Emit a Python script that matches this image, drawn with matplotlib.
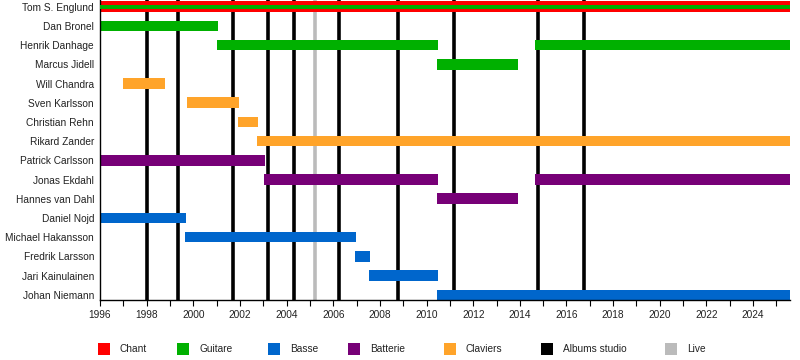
import matplotlib
matplotlib.use("Agg")
import matplotlib.pyplot as plt
from matplotlib.patches import Rectangle

plt.rcParams['font.family'] = ['Liberation Sans', 'DejaVu Sans']

END = 2025.6

members = ["Tom S. Englund", "Dan Bronel", "Henrik Danhage", "Marcus Jidell",
           "Will Chandra", "Sven Karlsson", "Christian Rehn", "Rikard Zander",
           "Patrick Carlsson", "Jonas Ekdahl", "Hannes van Dahl", "Daniel Nojd",
           "Michael Hakansson", "Fredrik Larsson", "Jari Kainulainen", "Johan Niemann"]

# (member, start, end, role)
periods = [
    ("Tom S. Englund", 1996.0, END, "Chant"),
    ("Dan Bronel", 1996.0, 2001.04, "Guitare"),
    ("Henrik Danhage", 2001.0, 2010.47, "Guitare"),
    ("Henrik Danhage", 2014.64, END, "Guitare"),
    ("Marcus Jidell", 2010.44, 2013.92, "Guitare"),
    ("Will Chandra", 1996.99, 1998.77, "Claviers"),
    ("Sven Karlsson", 1999.73, 2001.96, "Claviers"),
    ("Christian Rehn", 2001.91, 2002.76, "Claviers"),
    ("Rikard Zander", 2002.73, END, "Claviers"),
    ("Patrick Carlsson", 1996.0, 2003.07, "Batterie"),
    ("Jonas Ekdahl", 2003.03, 2010.47, "Batterie"),
    ("Jonas Ekdahl", 2014.64, END, "Batterie"),
    ("Hannes van Dahl", 2010.44, 2013.92, "Batterie"),
    ("Daniel Nojd", 1996.0, 1999.67, "Basse"),
    ("Michael Hakansson", 1999.64, 2006.97, "Basse"),
    ("Fredrik Larsson", 2006.93, 2007.57, "Basse"),
    ("Jari Kainulainen", 2007.53, 2010.47, "Basse"),
    ("Johan Niemann", 2010.44, END, "Basse"),
]

# secondary role stripe (inner thin bar)
inner = [("Tom S. Englund", 1996.0, END, "Guitare")]

studio_albums = [1998.0, 1999.36, 2001.71, 2003.21, 2004.33, 2006.26,
                 2008.76, 2011.19, 2014.79, 2016.76]
live_albums = [2005.21]

colors = {"Chant": "#ff0000", "Guitare": "#00b000", "Basse": "#0066cc",
          "Batterie": "#770077", "Claviers": "#ffa42a",
          "Albums studio": "#000000", "Live": "#bbbbbb"}
legend_items = ["Chant", "Guitare", "Basse", "Batterie", "Claviers",
                "Albums studio", "Live"]

fig = plt.figure(figsize=(8, 3.6), dpi=100)
ax = fig.add_axes([0.125, 0.1667, 0.988 - 0.125, 0.999 - 0.1667])

ypos = {m: i for i, m in enumerate(members)}

for x in studio_albums:
    ax.axvline(x, color=colors["Albums studio"], lw=2.6, zorder=1)
for x in live_albums:
    ax.axvline(x, color=colors["Live"], lw=2.6, zorder=1)

for m, s, e, r in periods:
    ax.barh(ypos[m], e - s, left=s, height=0.55, color=colors[r], zorder=2, linewidth=0)
for m, s, e, r in inner:
    ax.barh(ypos[m], e - s, left=s, height=0.2, color=colors[r], zorder=3, linewidth=0)

ax.set_xlim(1996, END)
ax.set_ylim(len(members) - 1 + 0.27, -0.33)
ax.set_yticks(range(len(members)))
ax.set_yticklabels(members)
ax.set_xticks(range(1996, 2026, 2))
ax.set_xticks(range(1996, 2026, 1), minor=True)
ax.tick_params(axis='y', length=0, pad=4.3, labelsize=7.3, colors='#222222')
ax.tick_params(axis='x', which='both', length=4, width=0.8, direction='out',
               labelsize=7.3, pad=3, colors='#222222')
ax.tick_params(axis='x', which='both', color='black')
for sp in ["top", "right"]:
    ax.spines[sp].set_visible(False)
for sp in ["left", "bottom"]:
    ax.spines[sp].set_linewidth(1.0)
    ax.spines[sp].set_color('black')

# legend drawn in figure pixel coordinates
leg_x = [98, 177, 268, 348, 444, 541, 665]
W, H = 800, 360
for name, lx in zip(legend_items, leg_x):
    fig.add_artist(Rectangle((lx / W, (H - 355) / H), 12 / W, 12 / H,
                             transform=fig.transFigure, color=colors[name], lw=0))
    fig.text((lx + 22) / W, (H - 349.5) / H, name, fontsize=7.3, va='center',
             ha='left', color='#222222')

fig.savefig("out.png", dpi=100)
